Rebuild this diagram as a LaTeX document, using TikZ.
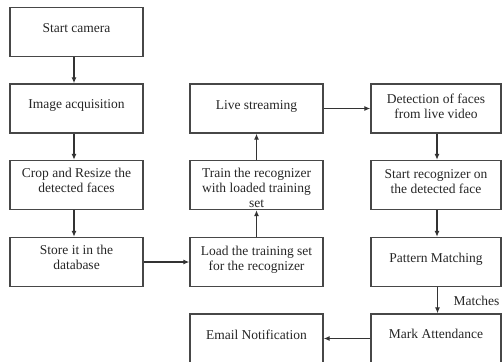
\documentclass[tikz,border=0pt]{standalone}
\usepackage{fontspec}
\setmainfont{Liberation Serif}
\usetikzlibrary{arrows.meta}
\begin{document}
\begin{tikzpicture}[x=1pt,y=-1pt,
  box/.style={draw=black!72,line width=1.3pt,minimum width=#1,minimum height=49pt,inner sep=0pt},
  box/.default=133pt,
  lbl/.style={font=\fontsize{13.5}{15}\selectfont,align=center,text=black!85,inner sep=0pt},
  arr/.style={draw=black!80,line width=1.2pt,-{Latex[length=6pt,width=5pt]}}]
\useasboundingbox (0,0) rectangle (502,361);
\clip (0,0) rectangle (502,361);
% boxes
\node[box] (b1) at (76.5,32) {};
\node[box] (b2) at (76.5,108.5) {};
\node[box] (b3) at (76.5,185) {};
\node[box] (b4) at (76.5,262) {};
\node[box] (b5) at (256.5,108.5) {};
\node[box] (b6) at (256.5,185) {};
\node[box] (b7) at (256.5,262) {};
\node[box] (b8) at (256.5,338.5) {};
\node[box=130pt] (b9) at (436,108.5) {};
\node[box=130pt] (b10) at (436,185) {};
\node[box=130pt] (b11) at (436,262) {};
\node[box=130pt] (b12) at (436,338.5) {};
% texts
\node[lbl] (t1) at (76.5,28) {Start camera};
\node[lbl] (t2) at (76.5,105) {Image acquisition};
\node[lbl] (t3) at (76.5,180.5) {Crop and Resize the\\detected faces};
\node[lbl] (t4) at (76.5,257.5) {Store it in the\\database};
\node[lbl] (t5) at (256.5,106) {Live streaming};
\node[lbl] (t6) at (256.5,187.5) {Train the recognizer\\with loaded training\\set};
\node[lbl] (t7) at (256.5,260) {Load the training set\\for the recognizer};
\node[lbl] (t8) at (256.5,335) {Email Notification};
\node[lbl] (t9) at (436,106) {Detection of faces\\from live video};
\node[lbl] (t10) at (436,181.5) {Start recognizer on\\the detected face};
\node[lbl] (t11) at (436,259) {Pattern Matching};
\node[lbl] (t12) at (436,334) {Mark Attendance};
% connectors
\draw[arr] ([xshift=-2.5pt]b1.south) -- ([xshift=-2.5pt]b2.north);
\draw[arr] ([xshift=-2.5pt]b2.south) -- ([xshift=-2.5pt]b3.north);
\draw[arr] ([xshift=-2.5pt]b3.south) -- ([xshift=-2.5pt]b4.north);
\draw[arr] (b4.east) -- (b7.west);
\draw[arr] (b7.north) -- (b6.south);
\draw[arr] (b6.north) -- (b5.south);
\draw[arr] (b5.east) -- (b9.west);
\draw[arr] ([xshift=1pt]b9.south) -- ([xshift=1pt]b10.north);
\draw[arr] ([xshift=1pt]b10.south) -- ([xshift=1pt]b11.north);
\draw[arr] ([xshift=1.5pt]b11.south) -- node[lbl,pos=0.7,anchor=base west,xshift=15.5pt] (m) {Matches} ([xshift=1.5pt]b12.north);
\draw[arr] (b12.west) -- (b8.east);
\end{tikzpicture}
\end{document}
